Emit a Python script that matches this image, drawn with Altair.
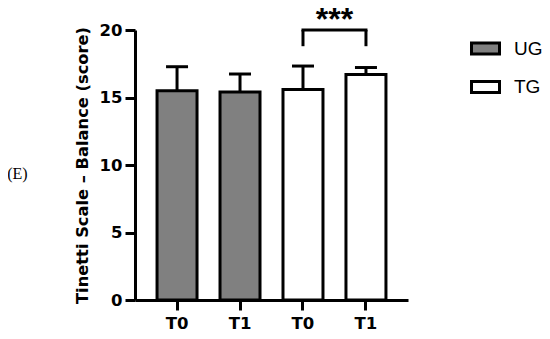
import altair as alt
import pandas as pd

# ---- data ----
time_labels = ["T0", "T1", "T0", "T1"]
groups = ["UG", "UG", "TG", "TG"]
means = [15.5, 15.4, 15.6, 16.7]
sds = [1.78, 1.34, 1.73, 0.52]

bracket_from = "T0 TG"
bracket_to = "T1 TG"
bracket_top = 20.0
bracket_bottom = 18.8
sig_text = "***"

keys = [f"{t} {g}" for t, g in zip(time_labels, groups)]
df = pd.DataFrame({
    "key": keys,
    "group": groups,
    "mean": means,
    "upper": [m + s for m, s in zip(means, sds)],
})

legs = pd.DataFrame({"x": [bracket_from, bracket_to],
                     "y": [bracket_bottom, bracket_bottom],
                     "y2": [bracket_top, bracket_top]})
top = pd.DataFrame({"x": [bracket_from], "x2": [bracket_to], "y": [bracket_top],
                    "label": [sig_text]})

AXFONT = "DejaVu Sans"

xscale = alt.Scale(domain=keys, paddingInner=0.365, paddingOuter=0.35)
yscale = alt.Scale(domain=[0, 20])

xaxis = alt.Axis(labelExpr="substring(datum.label, 0, 2)", labelAngle=0,
                 labelFontSize=16.5, labelPadding=5, tickSize=10)
yaxis = alt.Axis(values=[0, 5, 10, 15, 20], labelFontSize=16.5, labelPadding=3,
                 tickSize=10, titleFontSize=16.3, titlePadding=9)

X = alt.X("key:N", scale=xscale, axis=xaxis, title=None)
Y = alt.Y("mean:Q", scale=yscale, axis=yaxis, title="Tinetti Scale – Balance (score)")

base = alt.Chart(df)

err = base.mark_rule(color="black", strokeWidth=3).encode(x=X, y=Y, y2="upper:Q")
bars = base.mark_bar(stroke="black", strokeWidth=3).encode(
    x=X, y=Y,
    fill=alt.Fill("group:N",
                  scale=alt.Scale(domain=["UG", "TG"], range=["#808080", "#ffffff"]),
                  legend=alt.Legend(orient="none", legendX=335, legendY=3, title=None,
                                    direction="vertical", padding=0,
                                    symbolType="M-1,-0.4H1V0.4H-1Z", symbolSize=784,
                                    symbolStrokeColor="black", symbolStrokeWidth=3,
                                    labelFont="Liberation Sans", labelFontSize=19,
                                    labelColor="black", labelOffset=13, rowPadding=10.5)),
)
caps = base.mark_tick(color="black", thickness=3, size=22, opacity=1).encode(
    x=X, y=alt.Y("upper:Q", scale=yscale))

legs_chart = alt.Chart(legs).mark_rule(color="black", strokeWidth=3).encode(
    x=alt.X("x:N", scale=xscale), y=alt.Y("y:Q", scale=yscale), y2="y2:Q")
top_chart = alt.Chart(top).mark_rule(color="black", strokeWidth=3, strokeCap="square").encode(
    x=alt.X("x:N", scale=xscale), x2="x2:N", y=alt.Y("y:Q", scale=yscale))
stars = alt.Chart(top).mark_text(font="Liberation Sans", fontWeight="bold", fontSize=32,
                                 baseline="alphabetic", align="center", dx=31.5,
                                 color="black").encode(
    x=alt.X("x:N", scale=xscale), y=alt.Y("y:Q", scale=yscale), text="label:N")

chart = alt.layer(err, bars, caps, legs_chart, top_chart, stars).properties(
    width=273, height=270,
    autosize=alt.AutoSizeParams(type="none"),
    padding={"left": 127, "top": 22, "right": 134, "bottom": 31},
    title=alt.TitleParams("(E)", orient="left", angle=0, anchor="middle", align="right",
                          baseline="middle", font="Liberation Serif", fontSize=16,
                          fontWeight="normal", color="black", offset=26, dy=9),
).configure_view(stroke=None).configure_axis(
    grid=False, domainColor="black", domainWidth=3, tickColor="black", tickWidth=3,
    labelFont=AXFONT, labelFontWeight="bold", labelColor="black",
    titleFont=AXFONT, titleFontWeight="bold", titleColor="black",
)

chart.save("out.html", embed_options={"renderer": "svg", "actions": False})
